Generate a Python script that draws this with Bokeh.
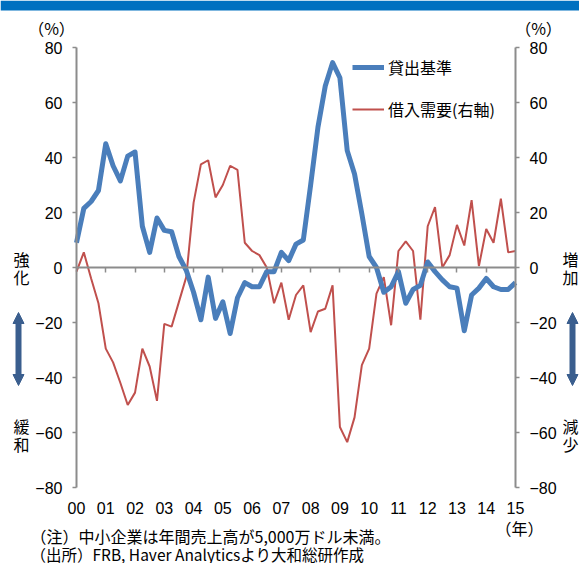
import numpy as np
from bokeh.plotting import figure
from bokeh.models import (LinearAxis, FixedTicker, Label, Arrow, NormalHead,
                          Legend, LegendItem, Range1d, BoxAnnotation)
from bokeh.embed import file_html
from bokeh.resources import INLINE

# Quarterly survey results, 2000Q1 - 2015Q1 (net %)
start_year = 2000
lending_standards = [
    9, 21.5, 24, 28, 45, 37, 31.5, 40.5, 42, 15, 5.5, 18, 13.5, 13, 4, -1,
    -9, -19, -3.5, -18.5, -12.5, -24, -11, -5.5, -7, -7, -1.5, -1.5, 5.5, 2.5,
    8.5, 10, 30, 51, 66, 74.5, 69, 42.5, 34, 19.5, 4, 0, -9, -7, -1.5, -13,
    -8, -6.5, 2, -1.5, -4.5, -7, -7.5, -23, -10, -7.5, -4, -7, -8, -8, -5.5,
]
loan_demand = [
    -1.5, 5.5, -4, -13, -29.5, -34.5, -42, -50, -45.5, -29.5, -36, -48.5,
    -20.5, -21.5, -12.5, -3.5, 23.5, 37.5, 39, 25.5, 30, 37, 35.5, 9, 6, 4.5,
    0, -13, -5.5, -19, -10, -6.5, -23.5, -16, -15, -6.5, -58, -63.5, -54.5,
    -35.5, -29.5, -9.5, -3.5, -21, 6, 9.5, 6, -19, 15, 22, 0, 4.5, 15.5, 8,
    24.5, 0.5, 14, 9, 25, 5.5, 6,
]
year_ticks = list(range(2000, 2016))
year_labels = ["%02d" % (y % 100) for y in year_ticks]
value_ticks = [-80, -60, -40, -20, 0, 20, 40, 60, 80]
value_labels = [str(v).replace("-", "\u2212") for v in value_ticks]

x = start_year + np.arange(len(lending_standards)) / 4.0

BLUE = "#4A7EBB"
RED = "#C0504D"
GRAY = "#8C8C8C"
ARROW = "#3A5E8E"
JP = "Noto Sans CJK JP"
NUM = "Liberation Sans"

# canvas and where the plotting area sits on it
W, H = 579, 563
FL, FR, FT, FB = 76, 515, 47, 487
X0, X1 = 2000, 2015
Y0, Y1 = -80, 80


def dx(px):
    return X0 + (px - FL) / (FR - FL) * (X1 - X0)


def dy(py):
    return Y1 - (py - FT) / (FB - FT) * (Y1 - Y0)


p = figure(width=W, height=H,
           x_range=Range1d(dx(0), dx(W)), y_range=Range1d(dy(H), dy(0)),
           output_backend="svg", toolbar_location=None,
           x_axis_location=None, y_axis_location=None,
           min_border=0, background_fill_color="white",
           border_fill_color="white")
p.outline_line_color = None
p.grid.visible = False


def value_axis(where):
    ax = LinearAxis(ticker=FixedTicker(ticks=value_ticks),
                    fixed_location=X0 if where == "left" else X1,
                    bounds=(Y0, Y1))
    ax.major_label_overrides = dict(zip(value_ticks, value_labels))
    ax.axis_line_color = GRAY
    ax.axis_line_width = 2
    ax.major_tick_line_color = GRAY
    ax.major_tick_line_width = 1.5
    ax.major_tick_in = 0
    ax.major_tick_out = 4
    ax.minor_tick_line_color = None
    ax.major_label_standoff = 10
    ax.major_label_text_font = NUM
    ax.major_label_text_font_size = "16px"
    ax.major_label_text_color = "black"
    p.add_layout(ax, where)


value_axis("left")
value_axis("right")

# zero line carrying the yearly tick marks
zero_axis = LinearAxis(ticker=FixedTicker(ticks=year_ticks[1:-1]),
                       fixed_location=0, bounds=(X0, X1))
zero_axis.axis_line_color = GRAY
zero_axis.axis_line_width = 2
zero_axis.major_tick_line_color = GRAY
zero_axis.major_tick_line_width = 1.5
zero_axis.major_tick_in = 0
zero_axis.major_tick_out = 5
zero_axis.minor_tick_line_color = None
zero_axis.major_label_text_font_size = "0px"
zero_axis.major_label_text_alpha = 0
p.add_layout(zero_axis, "below")

# year labels under the plotting area
year_axis = LinearAxis(ticker=FixedTicker(ticks=year_ticks),
                       fixed_location=Y0, bounds=(X0, X1))
year_axis.major_label_overrides = dict(zip(year_ticks, year_labels))
year_axis.axis_line_color = None
year_axis.major_tick_line_color = None
year_axis.minor_tick_line_color = None
year_axis.major_tick_in = 0
year_axis.major_tick_out = 0
year_axis.major_label_standoff = 14
year_axis.major_label_text_font = NUM
year_axis.major_label_text_font_size = "16px"
year_axis.major_label_text_color = "black"
p.add_layout(year_axis, "below")

r_red = p.line(x, loan_demand, line_color=RED, line_width=2)
r_blue = p.line(x, lending_standards, line_color=BLUE, line_width=5,
                line_join="round")

legend = Legend(items=[LegendItem(label="貸出基準", renderers=[r_blue]),
                       LegendItem(label="借入需要(右軸)", renderers=[r_red])],
                location=(352, H - 121), orientation="vertical",
                padding=0, margin=0, spacing=18, glyph_width=32, glyph_height=16,
                label_height=16, label_standoff=4,
                border_line_color=None, background_fill_alpha=0,
                label_text_font=JP, label_text_font_size="16px",
                label_text_color="black")
p.add_layout(legend, "center")

# banner across the top
p.add_layout(BoxAnnotation(bottom=dy(10), fill_color="#0070C0", fill_alpha=1,
                           line_color=None))


def put(text, px, py, align="center", size="16px", font=JP):
    p.add_layout(Label(x=dx(px), y=dy(py), text=text, text_align=align,
                       text_baseline="middle", text_font=font,
                       text_font_size=size, text_color="black"))


put("（%）", 51, 27)
put("（%）", 538, 27)
for ch, yy in (("強", 258), ("化", 276), ("緩", 425), ("和", 443)):
    put(ch, 21, yy)
for ch, yy in (("増", 258), ("加", 276), ("減", 425), ("少", 443)):
    put(ch, 570, yy)
put("（年）", 519, 527)
put("（注）中小企業は年間売上高が5,000万ドル未満。", 30, 535, align="left")
put("（出所）FRB, Haver Analyticsより大和総研作成", 30, 553, align="left",
    size="15.5px")

# up/down arrows beside the axes
for ax_px in (18, 572):
    p.add_layout(Arrow(start=NormalHead(size=11, fill_color=ARROW, line_color=ARROW),
                       end=NormalHead(size=11, fill_color=ARROW, line_color=ARROW),
                       x_start=dx(ax_px), y_start=dy(385),
                       x_end=dx(ax_px), y_end=dy(312),
                       line_color=ARROW, line_width=6))

open("out.html", "w").write(file_html(p, INLINE))
